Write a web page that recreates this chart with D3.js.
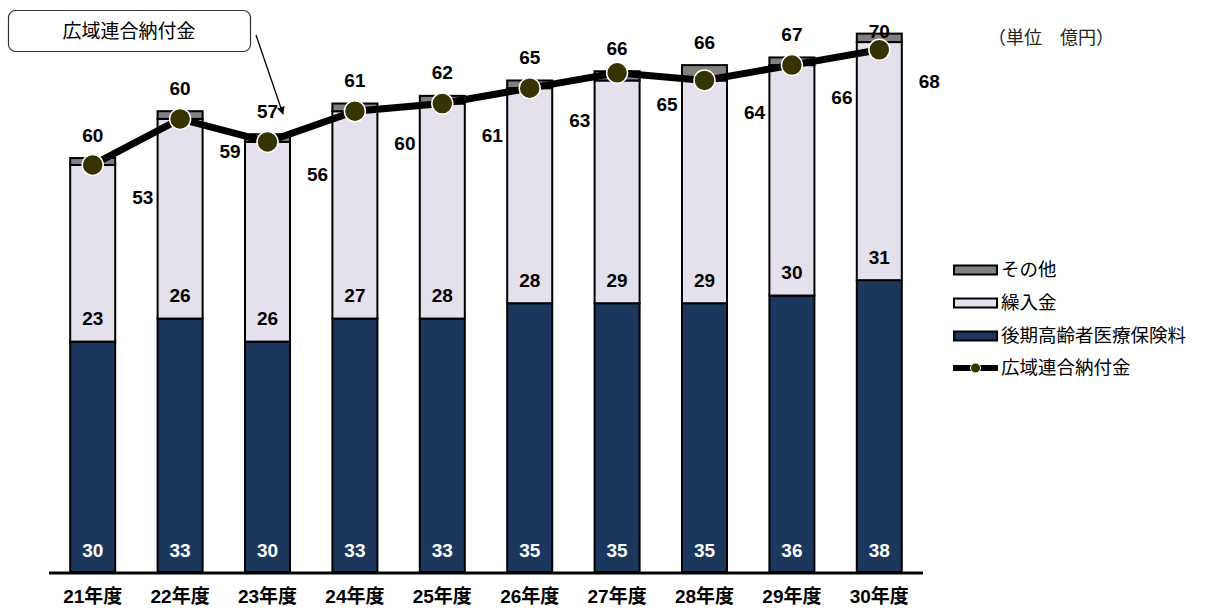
<!DOCTYPE html>
<html><head><meta charset="utf-8">
<script src="https://cdn.jsdelivr.net/npm/d3@7"></script>
<style>
html,body{margin:0;padding:0;background:#fff;}
svg{display:block;}
text{font-family:"Liberation Sans","Noto Sans CJK JP",sans-serif;}
</style></head>
<body>
<svg id="c" width="1213" height="612"></svg>
<script>
const categories = ["21年度","22年度","23年度","24年度","25年度","26年度","27年度","28年度","29年度","30年度"];
const premium   = [30,33,30,33,33,35,35,35,36,38];      // 後期高齢者医療保険料
const transfer  = [23,26,26,27,28,28,29,29,30,31];      // 繰入金
const other     = [0.9,1,1,1,1,1,1.2,2,1,1.1];          // その他
const totalLabels = [60,60,57,61,62,65,66,66,67,70];
const payment   = [53,59,56,60,61,63,65,64,66,68];      // 広域連合納付金
const seriesNames = ["その他","繰入金","後期高齢者医療保険料","広域連合納付金"];

const colors = {premium:"#1c375e", transfer:"#e4e0ec", other:"#808080", point:"#353300"};

const svg = d3.select("#c");
const x = d3.scaleBand().domain(categories).range([49,923]).paddingInner(0.485).paddingOuter(0.2425);
const y = d3.scaleLinear().domain([0,70]).range([572, 572-70*7.68]);

const stackData = categories.map((c,i)=>({cat:c, premium:premium[i], transfer:transfer[i], other:other[i]}));
const stack = d3.stack().keys(["premium","transfer","other"])(stackData);

const g = svg.append("g");
stack.forEach(layer=>{
  g.selectAll(null).data(layer).enter().append("rect")
    .attr("x", d=>x(d.data.cat))
    .attr("width", x.bandwidth())
    .attr("y", d=>y(d[1]))
    .attr("height", d=>y(d[0])-y(d[1]))
    .attr("fill", colors[layer.key])
    .attr("stroke","#000").attr("stroke-width",2);
});

// axis
const xAxis = d3.axisBottom(x).tickSize(0).tickPadding(17);
const ax = svg.append("g").attr("transform","translate(0,573)").call(xAxis);
ax.select(".domain").attr("stroke","#000").attr("stroke-width",3).attr("d","M49,0H923");
ax.selectAll("text").attr("font-size",19).attr("font-weight","bold").attr("fill","#000")
  .style("font-family",'"Liberation Sans","Noto Sans CJK JP",sans-serif');

const cx = c => x(c)+x.bandwidth()/2;
const numFont = 19;
// premium labels
g.selectAll(null).data(categories).enter().append("text")
  .attr("x",cx).attr("y",y(0)-22).attr("dy","0.35em").attr("text-anchor","middle")
  .attr("font-size",numFont).attr("font-weight","bold").attr("fill","#fff")
  .text((c,i)=>premium[i]);
// transfer labels
g.selectAll(null).data(categories).enter().append("text")
  .attr("x",cx).attr("y",(c,i)=>y(premium[i])-23).attr("dy","0.35em").attr("text-anchor","middle")
  .attr("font-size",numFont).attr("font-weight","bold").attr("fill","#000")
  .text((c,i)=>transfer[i]);
// total labels
g.selectAll(null).data(categories).enter().append("text")
  .attr("x",cx).attr("y",(c,i)=>Math.max(31, y(premium[i]+transfer[i]+other[i])-23)).attr("dy","0.35em").attr("text-anchor","middle")
  .attr("font-size",numFont).attr("font-weight","bold").attr("fill","#000")
  .text((c,i)=>totalLabels[i]);

// line
const line = d3.line().x((d,i)=>cx(categories[i])).y(d=>y(d));
g.append("path").datum(payment).attr("d",line).attr("fill","none")
  .attr("stroke","#000").attr("stroke-width",7).attr("stroke-linejoin","miter");
g.selectAll(null).data(payment).enter().append("circle")
  .attr("cx",(d,i)=>cx(categories[i])).attr("cy",d=>y(d)).attr("r",10.5)
  .attr("fill",colors.point).attr("stroke","#fff").attr("stroke-width",1.5);
// line labels
g.selectAll(null).data(payment).enter().append("text")
  .attr("x",(d,i)=>cx(categories[i])+50).attr("y",d=>y(d)+32).attr("dy","0.35em").attr("text-anchor","middle")
  .attr("font-size",numFont).attr("font-weight","bold").attr("fill","#000")
  .text(d=>d);

// callout
svg.append("rect").attr("x",8.5).attr("y",10.5).attr("width",242).attr("height",41).attr("rx",7)
  .attr("fill","#fff").attr("stroke","#333").attr("stroke-width",1.2);
svg.append("text").attr("x",129).attr("y",31).attr("dy","0.35em").attr("text-anchor","middle")
  .attr("font-size",19).attr("fill","#000").style("font-family",'"Noto Sans CJK JP",sans-serif').text(seriesNames[3]);
svg.append("defs").append("marker").attr("id","arr").attr("viewBox","0 0 10 10").attr("refX",9).attr("refY",5)
  .attr("markerWidth",8).attr("markerHeight",8).attr("orient","auto").attr("markerUnits","userSpaceOnUse")
  .append("path").attr("d","M0,0L10,5L0,10z").attr("fill","#000");
svg.append("line").attr("x1",256).attr("y1",35).attr("x2",283).attr("y2",114)
  .attr("stroke","#000").attr("stroke-width",1.3).attr("marker-end","url(#arr)");

// unit
svg.append("text").attr("x",988).attr("y",38).attr("dy","0.35em").attr("font-size",18).attr("fill","#222")
  .style("font-family",'"Noto Sans CJK JP",sans-serif').text("（単位　億円）");

// legend
const lg = svg.append("g");
const legendItems = [
  {name:seriesNames[0], fill:colors.other, y:270},
  {name:seriesNames[1], fill:colors.transfer, y:303},
  {name:seriesNames[2], fill:colors.premium, y:336},
];
legendItems.forEach(it=>{
  lg.append("rect").attr("x",954).attr("y",it.y-4.5).attr("width",43).attr("height",9)
    .attr("fill",it.fill).attr("stroke","#000").attr("stroke-width",2);
  lg.append("text").attr("x",1001).attr("y",it.y).attr("dy","0.35em").attr("font-size",18.5)
    .style("font-family",'"Noto Sans CJK JP",sans-serif').attr("fill","#000").text(it.name);
});
lg.append("line").attr("x1",953).attr("x2",998).attr("y1",368).attr("y2",368).attr("stroke","#000").attr("stroke-width",6);
lg.append("circle").attr("cx",975.5).attr("cy",368).attr("r",5).attr("fill",colors.point).attr("stroke","#fff").attr("stroke-width",1);
lg.append("text").attr("x",1001).attr("y",368).attr("dy","0.35em").attr("font-size",18.5)
  .style("font-family",'"Noto Sans CJK JP",sans-serif').attr("fill","#000").text(seriesNames[3]);
</script>
</body></html>
